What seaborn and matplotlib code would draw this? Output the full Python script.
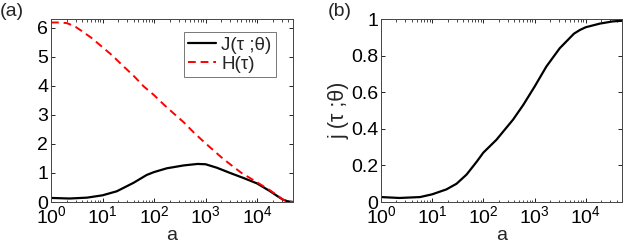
import numpy as np
import pandas as pd
import matplotlib
matplotlib.use("Agg")
import matplotlib.pyplot as plt
import seaborn as sns
from matplotlib.ticker import LogLocator, NullFormatter

# ---- data ----
a_H = [1, 1.5, 2, 2.3, 3, 4, 6, 10, 15.6, 22.6, 41, 63, 100, 156, 244, 380, 594, 1000, 2000, 3000, 5000, 10000, 18000, 25000, 32000, 40000, 50000]
H = [6.18, 6.18, 6.16, 6.12, 6.03, 5.88, 5.66, 5.33, 5.04, 4.76, 4.33, 3.98, 3.68, 3.35, 3.04, 2.74, 2.39, 2.02, 1.55, 1.3, 1.0, 0.68, 0.4, 0.22, 0.08, 0.02, 0.0]

a_J = [1, 2.3, 5, 10, 19, 40, 72, 100, 177, 380, 700, 1000, 1660, 3000, 5400, 10000, 18000, 25000, 32000, 40000, 50000]
J = [0.14, 0.12, 0.15, 0.23, 0.37, 0.66, 0.93, 1.03, 1.16, 1.26, 1.31, 1.3, 1.18, 1.0, 0.83, 0.64, 0.37, 0.2, 0.08, 0.02, 0.0]

a_j = [1, 2.3, 5.8, 10, 19, 30, 47, 74, 100, 180, 380, 600, 1000, 1700, 3100, 5900, 7700, 10000, 19000, 34000, 50000]
j = [0.027, 0.022, 0.027, 0.042, 0.069, 0.10, 0.15, 0.22, 0.27, 0.34, 0.45, 0.53, 0.63, 0.74, 0.84, 0.92, 0.94, 0.955, 0.975, 0.987, 0.99]

legend_labels = ["J(τ ;θ)", "H(τ)"]
ylabel_b = "j (τ ;θ)"
xlabel = "a"

sns.set_style("ticks")
plt.rcParams['font.family'] = ['Liberation Sans', 'DejaVu Sans']
plt.rcParams['mathtext.fontset'] = 'custom'
plt.rcParams['mathtext.rm'] = 'Liberation Sans'
plt.rcParams['mathtext.it'] = 'Liberation Sans'
fs = 14

fig = plt.figure(figsize=(6.23, 2.49), dpi=100)
W, Hh = 623, 249
ax1 = fig.add_axes([51 / W, 1 - 202 / Hh, (293 - 51) / W, (202 - 19) / Hh])
ax2 = fig.add_axes([381 / W, 1 - 202 / Hh, (621.5 - 381) / W, (202 - 19) / Hh])

dfJ = pd.DataFrame({"a": a_J, "v": J})
dfH = pd.DataFrame({"a": a_H, "v": H})
dfj = pd.DataFrame({"a": a_j, "v": j})

sns.lineplot(data=dfJ, x="a", y="v", ax=ax1, color="black", lw=1.6, label=legend_labels[0])
sns.lineplot(data=dfH, x="a", y="v", ax=ax1, color="#ff0000", lw=1.4, label=legend_labels[1])
ax1.lines[1].set_dashes([4, 2.5])
sns.lineplot(data=dfj, x="a", y="v", ax=ax2, color="black", lw=1.6)

for ax in (ax1, ax2):
    ax.set_xscale("log")
    ax.set_xlim(1, 5e4)
    ax.xaxis.set_major_locator(LogLocator(base=10, numticks=10))
    ax.xaxis.set_minor_locator(LogLocator(base=10, subs=np.arange(2, 10), numticks=20))
    ax.xaxis.set_minor_formatter(NullFormatter())
    ax.tick_params(which="both", direction="in", top=True, right=True, labelsize=fs, colors="black", pad=2)
    ax.tick_params(which="major", length=3, width=0.6)
    ax.tick_params(which="minor", length=1.8, width=0.5)
    for s in ax.spines.values():
        s.set_linewidth(0.7)
        s.set_color("#444444")
    ax.set_xlabel(xlabel, fontsize=fs, labelpad=0)

ax1.set_ylim(0, 6.3)
ax1.set_yticks([0, 1, 2, 3, 4, 5, 6])
ax1.set_ylabel("")
ax2.set_ylim(0, 1)
ax2.set_yticks([0, 0.2, 0.4, 0.6, 0.8, 1])
ax2.set_yticklabels(["0", "0.2", "0.4", "0.6", "0.8", "1"])
ax2.set_ylabel(ylabel_b, fontsize=15.5, labelpad=1)

leg = ax1.legend(loc="upper right", bbox_to_anchor=(0.93, 0.929), fontsize=13.5, frameon=True,
                 fancybox=False, handlelength=1.5, handletextpad=0.25, borderpad=0.25,
                 labelspacing=0.1, borderaxespad=0)
leg.get_frame().set_edgecolor("#555555")
leg.get_frame().set_linewidth(0.7)

fig.text(0 / W, 1 - 12 / Hh, "(a)", fontsize=fs, va="center", ha="left")
fig.text(328 / W, 1 - 12 / Hh, "(b)", fontsize=fs, va="center", ha="left")

fig.savefig("out.png", dpi=100)
